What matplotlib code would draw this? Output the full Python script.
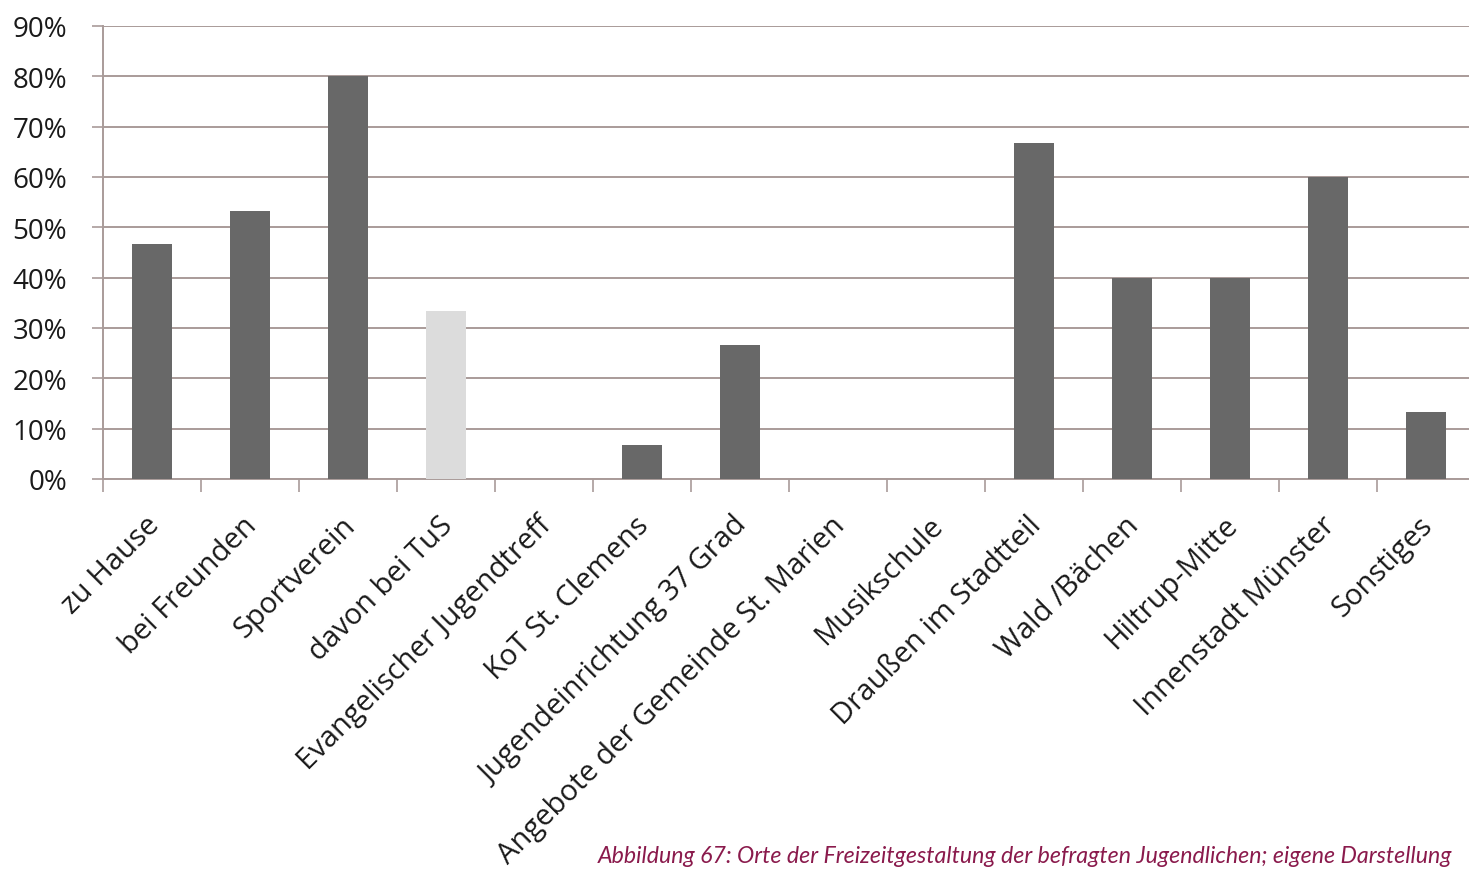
import matplotlib.pyplot as plt
import numpy as np

categories = ["zu Hause", "bei Freunden", "Sportverein", "davon bei TuS",
              "Evangelischer Jugendtreff", "KoT St. Clemens",
              "Jugendeinrichtung 37 Grad", "Angebote der Gemeinde St. Marien",
              "Musikschule", "Draußen im Stadtteil", "Wald /Bächen",
              "Hiltrup-Mitte", "Innenstadt Münster", "Sonstiges"]
values = [46.7, 53.3, 80.0, 33.3, 0.0, 6.7, 26.7, 0.0, 0.0, 66.7, 40.0, 40.0, 60.0, 13.3]
bar_colors = ["#686868"] * 14
bar_colors[3] = "#dcdcdc"
yticks = [0, 10, 20, 30, 40, 50, 60, 70, 80, 90]
caption = "Abbildung 67: Orte der Freizeitgestaltung der befragten Jugendlichen; eigene Darstellung"

plt.rcParams['font.family'] = ['Open Sans', 'DejaVu Sans']

fig = plt.figure(figsize=(14.69, 8.70), dpi=100)
ax = fig.add_axes([103 / 1469, 1 - 480 / 870, 1372 / 1469, 453 / 870])

x = np.arange(len(categories))
ax.bar(x, values, width=0.4, color=bar_colors, zorder=3)

ax.set_xlim(-0.5, len(categories) - 0.5)
ax.set_ylim(0, 90)
ax.set_yticks(yticks)
ax.set_yticklabels([f"{v}%" for v in yticks], fontsize=20, color="#1a1a1a")
ax.yaxis.grid(True, color="#a99b99", linewidth=1.4, zorder=0)

grid_c = "#a99b99"
for side in ["top", "right"]:
    ax.spines[side].set_visible(False)
ax.spines["left"].set_color(grid_c)
ax.spines["bottom"].set_color(grid_c)
ax.spines["left"].set_linewidth(1.4)
ax.spines["bottom"].set_linewidth(1.4)
ax.tick_params(axis="y", length=8, color=grid_c, width=1.2, pad=18)

ax.set_xticks(x)
ax.set_xticklabels([])
ax.tick_params(axis="x", which="major", length=0)
ax.set_xticks(np.arange(-0.5, len(categories), 1.0), minor=True)
ax.tick_params(axis="x", which="minor", length=9, color=grid_c, width=1.2)

for xi, label in zip(x, categories):
    ax.annotate(label, xy=(xi, 0), xycoords=("data", "axes fraction"),
                xytext=(2, -30), textcoords="offset points",
                rotation=45, rotation_mode="anchor", ha="right", va="center",
                fontsize=21, color="#1a1a1a", annotation_clip=False)

fig.text(598 / 1469, 1 - 863 / 870, caption, fontsize=16.7, style="italic",
         color="#8a1a4c", family=["Lato", "DejaVu Sans"],
         ha="left", va="baseline")

fig.savefig("out.png", dpi=100, facecolor="white")
